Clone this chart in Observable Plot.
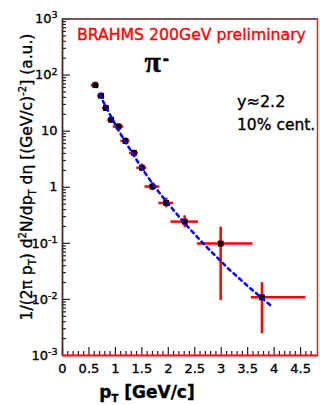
<!DOCTYPE html>
<html>
<head>
<meta charset="utf-8">
<script src="https://cdn.jsdelivr.net/npm/d3@7"></script>
<script src="https://cdn.jsdelivr.net/npm/@observablehq/plot@0.6"></script>
<style>
  html, body { margin: 0; padding: 0; background: #fff; }
  svg { display: block; }
  svg text { stroke: currentColor; stroke-width: 0.35px; }
</style>
</head>
<body>
<div id="chart"></div>
<script>
// Pion invariant yield, BRAHMS 200 GeV, y ~ 2.2, 0-10% central
const pt      = [0.62, 0.73, 0.82, 0.92, 1.06, 1.19, 1.35, 1.50, 1.70, 1.96, 2.31, 2.99, 3.77];
const yieldPi = [66, 42.7, 25.8, 15.9, 12.1, 6.7, 4.1, 2.23, 1.03, 0.525, 0.244, 0.099, 0.0109];
const ptLow   = [0.545, 0.665, 0.755, 0.855, 0.96, 1.105, 1.265, 1.405, 1.56, 1.82, 2.05, 2.55, 3.57];
const ptHigh  = [0.695, 0.795, 0.885, 0.985, 1.16, 1.275, 1.435, 1.595, 1.84, 2.10, 2.57, 3.60, 4.60];
const yLow    = [58, 37.8, 22.8, 14.1, 10.7, 5.9, 3.6, 1.9, 0.87, 0.43, 0.19, 0.0096, 0.00244];
const yHigh   = [75, 48.3, 29.2, 18.0, 13.7, 7.6, 4.6, 2.6, 1.22, 0.64, 0.31, 0.195, 0.0199];

// fitted curve, sampled
const fitPt = [0.70, 0.90, 1.10, 1.30, 1.50, 1.70, 1.90, 2.10, 2.30, 2.50, 2.70, 2.90, 3.10, 3.30, 3.50, 3.70, 3.95];
const fitY  = [45.7, 19.5, 8.9, 4.37, 2.19, 1.17, 0.66, 0.39, 0.234, 0.145, 0.091, 0.059, 0.038, 0.0257, 0.0174, 0.012, 0.0076];

// axes
const xTicks = [0, 0.5, 1, 1.5, 2, 2.5, 3, 3.5, 4, 4.5];
const xTickText = ["0", "0.5", "1", "1.5", "2", "2.5", "3", "3.5", "4", "4.5"];
const yTicks = [1e-3, 1e-2, 1e-1, 1, 10, 1e2, 1e3];
const yTickText = ["10^-3", "10^-2", "10^-1", "1", "10", "10^2", "10^3"];

const points = pt.map((p, i) => ({pt: p, y: yieldPi[i], x1: ptLow[i], x2: ptHigh[i], y1: yLow[i], y2: yHigh[i]}));
const fit = fitPt.map((p, i) => ({pt: p, y: fitY[i]}));

const xMinor = d3.range(0, 48).map(i => i / 10).filter(v => Math.abs(v * 2 - Math.round(v * 2)) > 1e-6);
const yMinor = [];
for (let e = -3; e < 3; e++) for (let m = 2; m <= 9; m++) yMinor.push(m * Math.pow(10, e));

const frameW = 255, frameH = 336.5;
const xLabelOf = new Map(xTicks.map((t, i) => [t, xTickText[i]]));
const yLabelOf = new Map(yTicks.map((t, i) => [t, yTickText[i]]));

const chart = Plot.plot({
  width: 320,
  height: 405,
  marginLeft: 62,
  marginRight: 3,
  marginTop: 18.5,
  marginBottom: 50,
  style: {fontFamily: "DejaVu Sans", fontSize: "13px", color: "black", background: "white", overflow: "visible"},
  x: {domain: [0, 4.82]},
  y: {type: "log", domain: [1e-3, 1e3]},
  marks: [
    Plot.frame({stroke: "#ff1a1a", strokeWidth: 1.5}),
    // inward ticks
    Plot.tickY(yTicks, {y: d => d, stroke: "#222", strokeWidth: 1.2, insetRight: frameW - 8}),
    Plot.tickY(yMinor, {y: d => d, stroke: "#222", strokeWidth: 1.2, insetRight: frameW - 4}),
    Plot.tickX(xTicks, {x: d => d, stroke: "#222", strokeWidth: 1.2, insetTop: frameH - 8}),
    Plot.tickX(xMinor, {x: d => d, stroke: "#222", strokeWidth: 1.2, insetTop: frameH - 4}),
    Plot.ruleY([1e-3], {stroke: "#ff1a1a", strokeWidth: 2}),
    Plot.ruleX([0], {stroke: "#333", strokeWidth: 1.5}),
    Plot.ruleY([1e3], {stroke: "#555", strokeWidth: 1.5}),
    Plot.axisX({ticks: xTicks, tickSize: 0, tickPadding: 8, tickFormat: d => xLabelOf.get(d), label: null}),
    Plot.axisY({ticks: yTicks, tickSize: 0, tickPadding: 5, tickFormat: d => yLabelOf.get(d), label: null}),
    // error bars
    Plot.ruleY(points, {y: "y", x1: "x1", x2: "x2", stroke: "#ff0000", strokeWidth: 2.5}),
    Plot.ruleX(points, {x: "pt", y1: "y1", y2: "y2", stroke: "#ff0000", strokeWidth: 2.5}),
    Plot.dot(points, {x: "pt", y: "y", symbol: "square", r: 3.3, fill: "black"}),
    Plot.line(fit, {x: "pt", y: "y", stroke: "#0000ff", strokeWidth: 2.5, strokeDasharray: "3.5,4", curve: "monotone-x"}),
    // annotations
    Plot.text(["BRAHMS 200GeV preliminary"], {text: d => d, frameAnchor: "top-left", textAnchor: "start", lineAnchor: "bottom",
      dx: 14.5, dy: 20.5, fill: "#ff0000", fontSize: 15.7, fontFamily: "DejaVu Sans"}),
    Plot.text(["π"], {text: d => d, frameAnchor: "top-left", textAnchor: "start", lineAnchor: "bottom",
      dx: 82, dy: 53, fontSize: 30, fontFamily: "Liberation Serif", fontWeight: "bold"}),
    Plot.text(["-"], {text: d => d, frameAnchor: "top-left", textAnchor: "start", lineAnchor: "bottom",
      dx: 100, dy: 45, fontSize: 16, fontFamily: "DejaVu Sans", fontWeight: "bold"}),
    Plot.text(["y≈2.2"], {text: d => d, frameAnchor: "top-left", textAnchor: "start", lineAnchor: "bottom",
      dx: 174.5, dy: 87.5, fontSize: 16, fontFamily: "DejaVu Sans", ariaLabel: "rapidity"}),
    Plot.text(["10% cent."], {text: d => d, frameAnchor: "top-left", textAnchor: "start", lineAnchor: "bottom",
      dx: 174.5, dy: 110.8, fontSize: 15.5, fontFamily: "DejaVu Sans"})
  ]
});

document.getElementById("chart").appendChild(chart);
const svg = d3.select(chart);

// red title text keeps its own outline colour
svg.selectAll("text").each(function () {
  const f = this.getAttribute("fill") || (this.parentNode && this.parentNode.getAttribute && this.parentNode.getAttribute("fill"));
  if (f && f !== "currentColor") this.style.stroke = f;
});

// powers of ten as superscripts
svg.selectAll('g[aria-label="y-axis tick label"] text').each(function () {
  const s = this.textContent;
  if (s.includes("^")) {
    const [base, exp] = s.split("^");
    const t = d3.select(this);
    t.text(null);
    t.append("tspan").text(base);
    t.append("tspan").attr("dy", "-0.5em").attr("font-size", "9.5px").text(exp);
  }
});

// small approx sign
svg.selectAll('g[aria-label="rapidity"] text').each(function () {
  const t = d3.select(this);
  t.text(null);
  t.append("tspan").text("y");
  t.append("tspan").attr("font-size", "10px").attr("dy", "-1").text("≈");
  t.append("tspan").attr("dy", "1").text("2.2");
});

// y axis title
const yt = svg.append("text")
  .attr("transform", "translate(32,177) rotate(-90)")
  .attr("text-anchor", "middle")
  .attr("font-family", "DejaVu Sans")
  .attr("font-size", 15.5)
  .attr("fill", "black");
const parts = [
  ["1/(2π p", 0, null], ["T", 4, 10], [") d", -4, null], ["2", -6, 10], ["N/dp", 6, null],
  ["T", 4, 10], [" dη [(GeV/c)", -4, null], ["-2", -6, 10], ["] (a.u.)", 6, null]
];
for (const [s, dy, fs] of parts) {
  const ts = yt.append("tspan").attr("dy", dy).text(s);
  if (fs) ts.attr("font-size", fs);
}

// x axis title
const xt = svg.append("text")
  .attr("x", 147).attr("y", 398)
  .attr("font-family", "DejaVu Sans")
  .attr("font-weight", "bold")
  .attr("font-size", 17)
  .attr("fill", "black");
xt.append("tspan").text("p");
xt.append("tspan").attr("font-size", 10).attr("dy", 4).text("T");
xt.append("tspan").attr("dy", -4).text(" [GeV/c]");
</script>
</body>
</html>
